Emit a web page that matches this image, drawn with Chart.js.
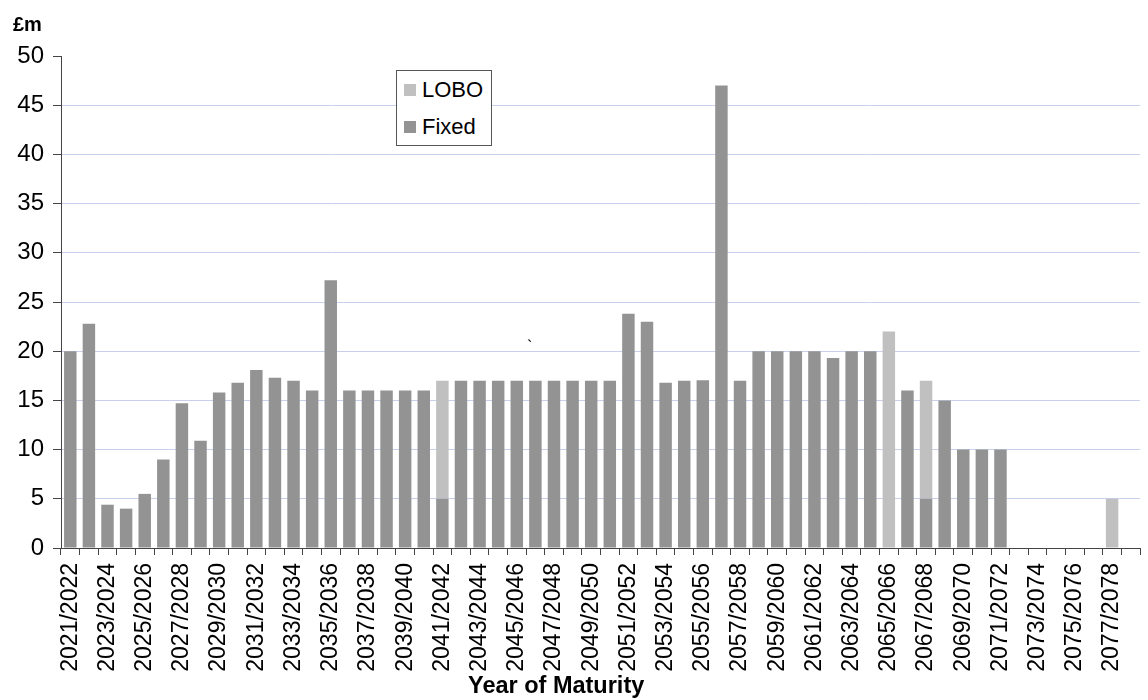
<!DOCTYPE html>
<html>
<head>
<meta charset="utf-8">
<script src="https://cdn.jsdelivr.net/npm/chart.js@4/dist/chart.umd.min.js"></script>
<style>
    html, body { margin: 0; padding: 0; background: #fff; overflow: hidden; }
    #wrap { position: relative; width: 1148px; height: 700px; font-family: 'Liberation Sans', Arial, sans-serif; }
    #unit { position: absolute; left: 13px; top: 13px; font-size: 20px; font-weight: bold; color: #000; }
    #xTitle { position: absolute; left: 468px; top: 672px; font-size: 23.5px; font-weight: bold; color: #000; white-space: nowrap; }
    #stray { position: absolute; left: 527px; top: 338px; font-size: 16px; color: #000; }
    #legend { position: absolute; left: 396px; top: 70px; width: 94px; height: 74px; border: 1px solid #555; background: #fff; }
    .legend-row { display: flex; align-items: center; height: 37px; padding-left: 7px; font-size: 22px; color: #000; }
    .legend-swatch { width: 12px; height: 12px; margin-right: 6px; }
</style>
</head>
<body>
<div id="wrap">
    <canvas id="maturityChart" width="1148" height="700"></canvas>
    <div id="unit">£m</div>
    <div id="xTitle">Year of Maturity</div>
    <div id="stray">`</div>
    <div id="legend"></div>
</div>
<script>
// Maturity profile data (£m)
const years = [
    '2021/2022', '2022/2023', '2023/2024', '2024/2025', '2025/2026', '2026/2027',
    '2027/2028', '2028/2029', '2029/2030', '2030/2031', '2031/2032', '2032/2033',
    '2033/2034', '2034/2035', '2035/2036', '2036/2037', '2037/2038', '2038/2039',
    '2039/2040', '2040/2041', '2041/2042', '2042/2043', '2043/2044', '2044/2045',
    '2045/2046', '2046/2047', '2047/2048', '2048/2049', '2049/2050', '2050/2051',
    '2051/2052', '2052/2053', '2053/2054', '2054/2055', '2055/2056', '2056/2057',
    '2057/2058', '2058/2059', '2059/2060', '2060/2061', '2061/2062', '2062/2063',
    '2063/2064', '2064/2065', '2065/2066', '2066/2067', '2067/2068', '2068/2069',
    '2069/2070', '2070/2071', '2071/2072', '2072/2073', '2073/2074', '2074/2075',
    '2075/2076', '2076/2077', '2077/2078', '2078/2079'
];

const fixedLoans = [
    20, 22.8, 4.4, 4.0, 5.5, 9.0,
    14.7, 10.9, 15.8, 16.8, 18.1, 17.3,
    17, 16, 27.2, 16, 16, 16,
    16, 16, 5, 17, 17, 17,
    17, 17, 17, 17, 17, 17,
    23.8, 23, 16.8, 17, 17.05, 47,
    17, 20, 20, 20, 20, 19.3,
    20, 20, 0, 16, 5, 15,
    10, 10, 10, 0, 0, 0,
    0, 0, 0, 0
];

const loboLoans = [
    0, 0, 0, 0, 0, 0,
    0, 0, 0, 0, 0, 0,
    0, 0, 0, 0, 0, 0,
    0, 0, 12, 0, 0, 0,
    0, 0, 0, 0, 0, 0,
    0, 0, 0, 0, 0, 0,
    0, 0, 0, 0, 0, 0,
    0, 0, 22, 0, 12, 0,
    0, 0, 0, 0, 0, 0,
    0, 0, 5, 0
];

const yTicks = [0, 5, 10, 15, 20, 25, 30, 35, 40, 45, 50];

const FIXED_COLOUR = '#939393';
const LOBO_COLOUR = '#c0c0c0';
const FONT = "'Liberation Sans', Arial, sans-serif";

const ctx = document.getElementById('maturityChart').getContext('2d');
const maturityChart = new Chart(ctx, {
    type: 'bar',
    data: {
        labels: years,
        datasets: [
            { label: 'Fixed', data: fixedLoans, backgroundColor: FIXED_COLOUR, borderWidth: 0 },
            { label: 'LOBO', data: loboLoans, backgroundColor: LOBO_COLOUR, borderWidth: 0 }
        ]
    },
    options: {
        responsive: false,
        animation: false,
        layout: { padding: { top: 56, right: 8, left: 0, bottom: 0 } },
        datasets: {
            bar: { categoryPercentage: 1, barPercentage: 0.67 }
        },
        plugins: {
            legend: { display: false },
            tooltip: { enabled: false }
        },
        scales: {
            x: {
                stacked: true,
                afterFit: (scale) => {
                    scale.height = 152;
                    scale.paddingLeft = 0;
                    scale.paddingRight = 0;
                },
                border: { color: '#444', width: 1 },
                grid: {
                    offset: true,
                    drawOnChartArea: false,
                    drawTicks: true,
                    tickLength: 7,
                    tickColor: '#444'
                },
                ticks: {
                    autoSkip: false,
                    maxRotation: 90,
                    minRotation: 90,
                    padding: 8,
                    color: '#000',
                    font: { family: FONT, size: 23 },
                    callback: function (value, index) {
                        return index % 2 === 0 ? this.getLabelForValue(value) : '';
                    }
                }
            },
            y: {
                stacked: true,
                min: yTicks[0],
                max: yTicks[yTicks.length - 1],
                afterFit: (scale) => { scale.width = 61; },
                afterBuildTicks: (scale) => { scale.ticks = yTicks.map(v => ({ value: v })); },
                border: { color: '#444', width: 1 },
                grid: {
                    color: (c) => (c.tick && (c.tick.value === 0 || c.tick.value === 50)) ? 'rgba(0,0,0,0)' : '#c8d0ee',
                    tickColor: '#444',
                    tickLength: 8
                },
                ticks: {
                    padding: 9,
                    color: '#000',
                    font: { family: FONT, size: 24 }
                }
            }
        }
    }
});

// HTML legend, LOBO listed first as in the original
const legendEl = document.getElementById('legend');
maturityChart.data.datasets.slice().reverse().forEach(ds => {
    const row = document.createElement('div');
    row.className = 'legend-row';
    row.innerHTML = '<span class="legend-swatch" style="background:' + ds.backgroundColor + '"></span>' + ds.label;
    legendEl.appendChild(row);
});
</script>
</body>
</html>
